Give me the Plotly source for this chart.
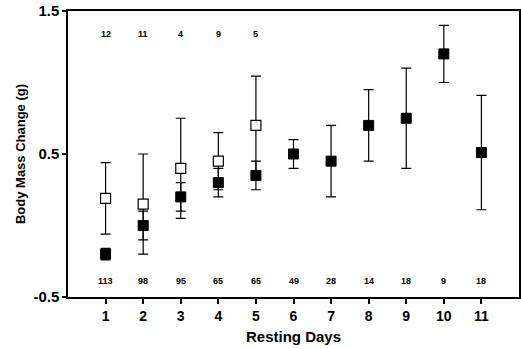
import plotly.graph_objects as go

days_filled = [1, 2, 3, 4, 5, 6, 7, 8, 9, 10, 11]
mean_filled = [-0.20, 0.00, 0.20, 0.30, 0.35, 0.50, 0.45, 0.70, 0.75, 1.20, 0.51]
err_filled = [0.04, 0.10, 0.10, 0.10, 0.10, 0.10, 0.25, 0.25, 0.35, 0.20, 0.40]

days_open = [1, 2, 3, 4, 5]
mean_open = [0.19, 0.15, 0.40, 0.45, 0.70]
err_open = [0.25, 0.35, 0.35, 0.20, 0.345]

n_top = ["12", "11", "4", "9", "5"]
n_bottom = ["113", "98", "95", "65", "65", "49", "28", "14", "18", "9", "18"]

y_ticks = [-0.5, 0.5, 1.5]

FONT = "Liberation Sans, Arial, sans-serif"

fig = go.Figure()
fig.add_trace(go.Scatter(
    x=days_filled, y=mean_filled, mode="markers",
    marker=dict(symbol="square", size=10, color="black", line=dict(color="black", width=1)),
    error_y=dict(type="data", array=err_filled, visible=True, color="black", thickness=1.2, width=5),
    showlegend=False))
fig.add_trace(go.Scatter(
    x=days_open, y=mean_open, mode="markers",
    marker=dict(symbol="square", size=10, color="white", line=dict(color="black", width=1.2)),
    error_y=dict(type="data", array=err_open, visible=True, color="black", thickness=1.2, width=5),
    showlegend=False))

for d, t in zip(days_open, n_top):
    fig.add_annotation(x=d, y=1.34, text="<b>%s</b>" % t, showarrow=False,
                       font=dict(family=FONT, size=9, color="black"))
for d, t in zip(days_filled, n_bottom):
    fig.add_annotation(x=d, y=-0.39, text="<b>%s</b>" % t, showarrow=False,
                       font=dict(family=FONT, size=9, color="black"))

fig.update_layout(
    width=521, height=349,
    margin=dict(l=68, r=2, t=11, b=52, autoexpand=False),
    paper_bgcolor="white", plot_bgcolor="white",
    font=dict(family=FONT, color="black"),
)
fig.update_xaxes(
    range=[0, 12], tickvals=days_filled, ticktext=["<b>%d</b>" % d for d in days_filled],
    showline=True, linecolor="black", linewidth=1.5, mirror=True,
    ticks="outside", ticklen=5, tickwidth=1.5, tickcolor="black",
    showgrid=False, zeroline=False,
    tickfont=dict(family=FONT, size=14, color="black"),
    title=dict(text="<b>Resting Days</b>", font=dict(family=FONT, size=15, color="black"), standoff=9),
)
fig.update_yaxes(
    range=[-0.5, 1.5], tickvals=y_ticks, ticktext=["<b>%s</b>" % v for v in ["-0.5", "0.5", "1.5"]],
    showline=True, linecolor="black", linewidth=1.5, mirror=True,
    ticks="outside", ticklen=4, tickwidth=2, tickcolor="black",
    showgrid=False, zeroline=False,
    tickfont=dict(family=FONT, size=15, color="black"),
    title=dict(text="<b>Body Mass Change (g)</b>", font=dict(family=FONT, size=13, color="black"), standoff=5),
)

fig.write_html("out.html", config={"displayModeBar": False},
               post_script="document.body.style.margin='0';")
